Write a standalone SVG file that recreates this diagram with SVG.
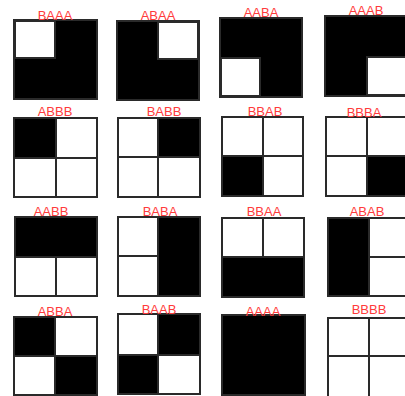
<svg xmlns="http://www.w3.org/2000/svg" width="405" height="396" viewBox="0 0 405 396">
<style>
.a{fill:#000;stroke:#2a2a2a;stroke-width:2}
.b{fill:#fff;stroke:#2a2a2a;stroke-width:2}
.o{fill:none;stroke:#2a2a2a;stroke-width:2}
text{font-family:"Liberation Sans",Arial,sans-serif;font-size:13px;fill:#ff3b3b;text-anchor:middle}
</style>
<rect width="405" height="396" fill="#fff"/>
<g id="BAAA">
<rect class="a" x="14" y="20" width="83" height="79"/>
<rect class="b" x="15" y="21" width="40" height="37"/>
<rect class="o" x="14" y="20" width="83" height="79"/>
<text x="55" y="20">BAAA</text>
</g>
<g id="ABAA">
<rect class="a" x="117" y="21" width="82" height="79"/>
<rect class="b" x="158" y="22" width="40" height="37"/>
<rect class="o" x="117" y="21" width="82" height="79"/>
<text x="158" y="20">ABAA</text>
</g>
<g id="AABA">
<rect class="a" x="220" y="18" width="82" height="79"/>
<rect class="b" x="221" y="58" width="39" height="38"/>
<rect class="o" x="220" y="18" width="82" height="79"/>
<text x="261" y="17">AABA</text>
</g>
<g id="AAAB">
<rect class="a" x="325" y="16" width="82" height="80"/>
<rect class="b" x="367" y="57" width="40" height="38"/>
<rect class="o" x="325" y="16" width="82" height="80"/>
<text x="366" y="15">AAAB</text>
</g>
<g id="ABBB">
<rect class="b" x="14" y="118" width="83" height="79"/>
<rect class="a" x="14" y="118" width="42" height="40"/>
<path class="o" d="M56 118V197M14 158H97"/>
<rect class="o" x="14" y="118" width="83" height="79"/>
<text x="55" y="116">ABBB</text>
</g>
<g id="BABB">
<rect class="b" x="118" y="118" width="82" height="79"/>
<rect class="a" x="158" y="118" width="42" height="39"/>
<path class="o" d="M158 118V197M118 157H200"/>
<rect class="o" x="118" y="118" width="82" height="79"/>
<text x="164" y="116">BABB</text>
</g>
<g id="BBAB">
<rect class="b" x="222" y="117" width="81" height="79"/>
<rect class="a" x="222" y="156" width="41" height="40"/>
<path class="o" d="M263 117V196M222 156H303"/>
<rect class="o" x="222" y="117" width="81" height="79"/>
<text x="265" y="116">BBAB</text>
</g>
<g id="BBBA">
<rect class="b" x="326" y="117" width="82" height="79"/>
<rect class="a" x="367" y="156" width="41" height="40"/>
<path class="o" d="M367 117V196M326 156H408"/>
<rect class="o" x="326" y="117" width="82" height="79"/>
<text x="364" y="117">BBBA</text>
</g>
<g id="AABB">
<rect class="b" x="15" y="217" width="82" height="79"/>
<rect class="a" x="15" y="217" width="82" height="40"/>
<path class="o" d="M56 257V296M15 257H97"/>
<rect class="o" x="15" y="217" width="82" height="79"/>
<text x="51" y="216">AABB</text>
</g>
<g id="BABA">
<rect class="b" x="118" y="217" width="82" height="79"/>
<rect class="a" x="158" y="217" width="42" height="79"/>
<path class="o" d="M158 217V296M118 256H158"/>
<rect class="o" x="118" y="217" width="82" height="79"/>
<text x="160" y="216">BABA</text>
</g>
<g id="BBAA">
<rect class="b" x="222" y="218" width="82" height="79"/>
<rect class="a" x="222" y="257" width="82" height="40"/>
<path class="o" d="M263 218V257M222 257H304"/>
<rect class="o" x="222" y="218" width="82" height="79"/>
<text x="264" y="216">BBAA</text>
</g>
<g id="ABAB">
<rect class="b" x="328" y="218" width="82" height="78"/>
<rect class="a" x="328" y="218" width="41" height="78"/>
<path class="o" d="M369 218V296M369 257H410"/>
<rect class="o" x="328" y="218" width="82" height="78"/>
<text x="367" y="216">ABAB</text>
</g>
<g id="ABBA">
<rect class="b" x="14" y="317" width="83" height="78"/>
<rect class="a" x="14" y="317" width="41" height="39"/>
<rect class="a" x="55" y="356" width="42" height="39"/>
<path class="o" d="M55 317V395M14 356H97"/>
<rect class="o" x="14" y="317" width="83" height="78"/>
<text x="55" y="316">ABBA</text>
</g>
<g id="BAAB">
<rect class="b" x="118" y="314" width="82" height="80"/>
<rect class="a" x="158" y="314" width="42" height="41"/>
<rect class="a" x="118" y="355" width="40" height="39"/>
<path class="o" d="M158 314V394M118 355H200"/>
<rect class="o" x="118" y="314" width="82" height="80"/>
<text x="159" y="314">BAAB</text>
</g>
<g id="AAAA">
<rect class="a" x="222" y="315" width="83" height="80"/>
<rect class="o" x="222" y="315" width="83" height="80"/>
<text x="263" y="316">AAAA</text>
</g>
<g id="BBBB">
<rect class="b" x="328" y="318" width="82" height="80"/>
<path class="o" d="M369 318V398M328 356H410"/>
<rect class="o" x="328" y="318" width="82" height="80"/>
<text x="369" y="314">BBBB</text>
</g>
</svg>
